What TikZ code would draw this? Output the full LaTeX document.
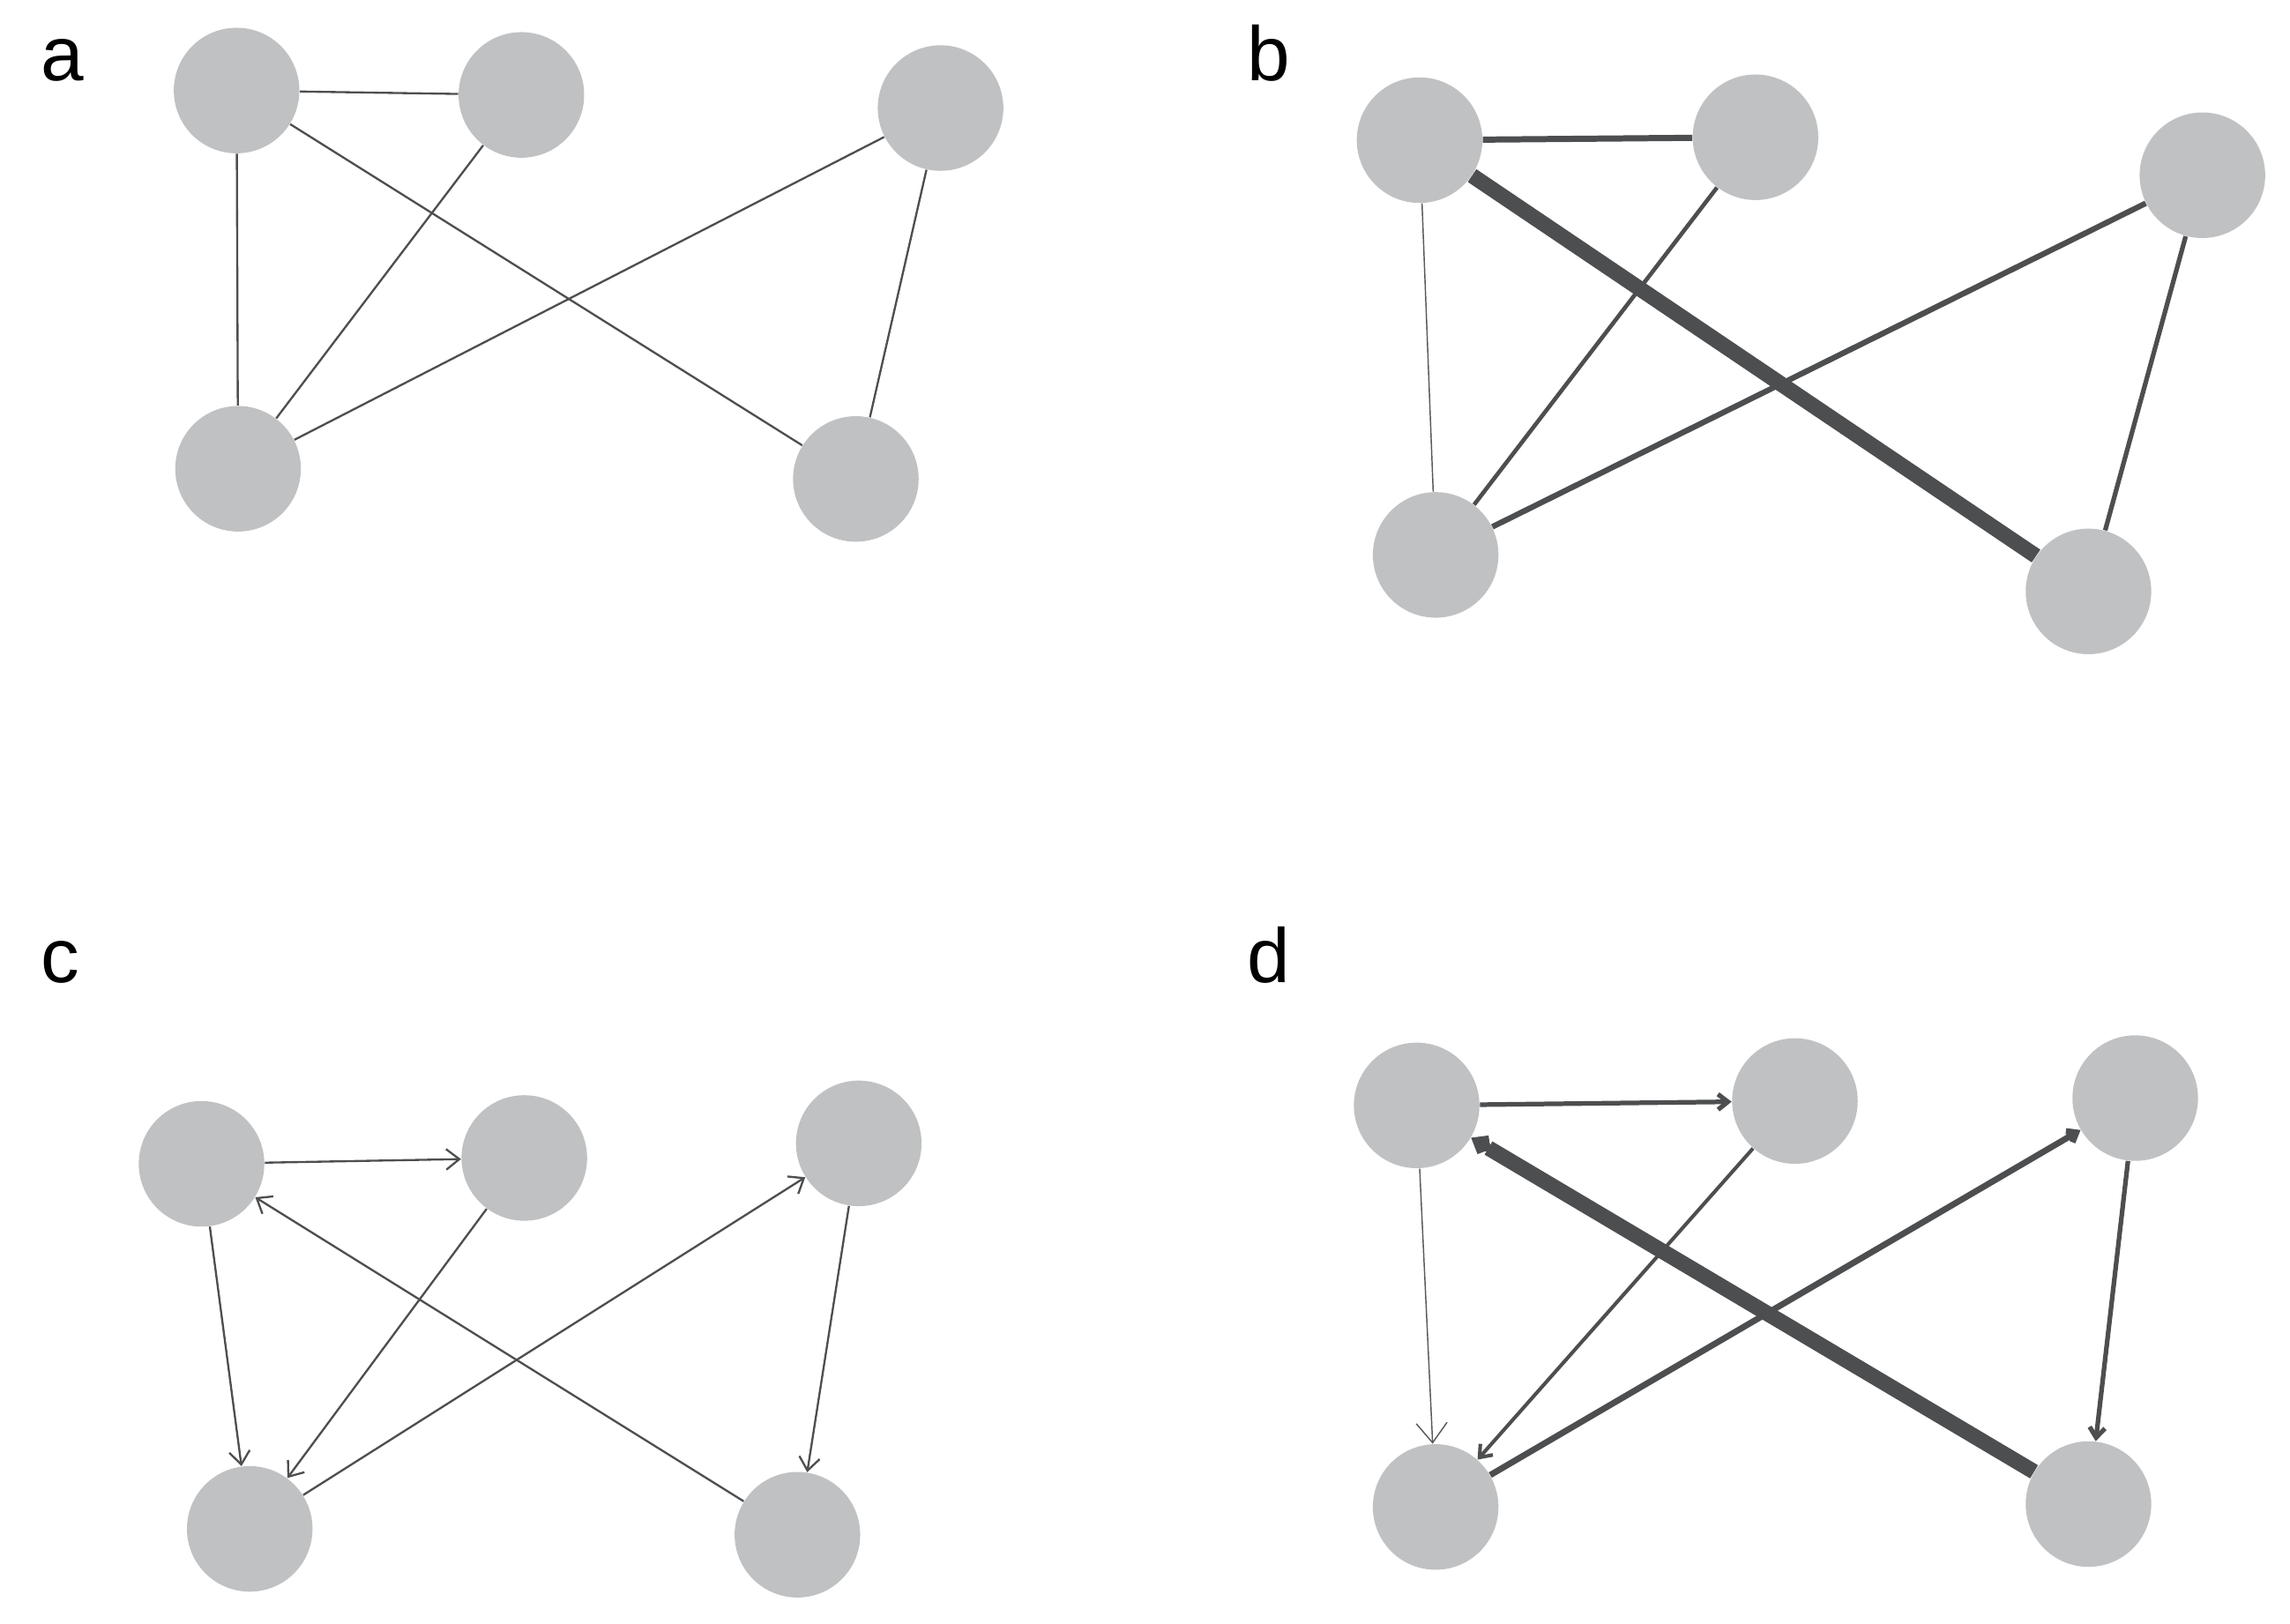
\documentclass[tikz,border=0pt]{standalone}
\usepackage{fontspec}
\setmainfont{Liberation Sans}
\usetikzlibrary{arrows.meta}
\begin{document}
\begin{tikzpicture}[x=0.02cm,y=-0.02cm,
  nd/.style={circle,fill=nodegray,draw=none,minimum size=1.72cm,inner sep=0pt},
  ed/.style={draw=edgegray,line width=#1},
  ed/.default=0.8pt,
  lbl/.style={font=\fontsize{30}{30}\selectfont,anchor=base west},
  ar/.style={-{Straight Barb[length=#1*3.2pt,width=#1*5pt]}}]
\definecolor{nodegray}{HTML}{C0C1C3}
\definecolor{edgegray}{HTML}{4D4E50}
\useasboundingbox (0,0) rectangle (1568,1112);
% panel a
\node[lbl] (la) at (22,55) {a};
\node[nd] (a1) at (162,62) {};
\node[nd] (a2) at (357,65) {};
\node[nd] (a3) at (644,74) {};
\node[nd] (a4) at (163,321) {};
\node[nd] (a5) at (586,328) {};
\draw[ed] (a1)--(a2) (a1)--(a4) (a1)--(a5) (a2)--(a4) (a4)--(a3) (a3)--(a5);
% panel b
\node[lbl] (lb) at (848,55) {b};
\node[nd] (b1) at (972,96) {};
\node[nd] (b2) at (1202,94) {};
\node[nd] (b3) at (1508,120) {};
\node[nd] (b4) at (983,380) {};
\node[nd] (b5) at (1430,405) {};
\draw[draw=gray!70!black,line width=0.5pt] (b1)--(b4);
\draw[ed=2.4pt] (b1)--(b2);
\draw[ed=6pt] (b1)--(b5);
\draw[ed=1.6pt] (b2)--(b4);
\draw[ed=2.2pt] (b4)--(b3);
\draw[ed=1.8pt] (b3)--(b5);
% panel c
\node[lbl] (lc) at (22,673) {c};
\node[nd] (c1) at (138,797) {};
\node[nd] (c2) at (359,793) {};
\node[nd] (c3) at (588,783) {};
\node[nd] (c4) at (171,1047) {};
\node[nd] (c5) at (546,1051) {};
\draw[ed,ar=1.6] (c1)--(c2);
\draw[ed,ar=1.6] (c1)--(c4);
\draw[ed,ar=1.6] (c2)--(c4);
\draw[ed,ar=1.6] (c4)--(c3);
\draw[ed,ar=1.6] (c5)--(c1);
\draw[ed,ar=1.6] (c3)--(c5);
% panel d
\node[lbl] (ld) at (848,673) {d};
\node[nd] (d1) at (970,757) {};
\node[nd] (d2) at (1229,754) {};
\node[nd] (d3) at (1462,752) {};
\node[nd] (d4) at (983,1032) {};
\node[nd] (d5) at (1430,1030) {};
\draw[draw=gray!70!black,line width=0.5pt,ar=2.4] (d1)--(d4);
\draw[ed=1.8pt,ar=1.2] (d1)--(d2);
\draw[ed=1.4pt,ar=1.3] (d2)--(d4);
\draw[ed=2.4pt,ar=1.0] (d4)--(d3);
\draw[ed=6pt,ar=0.75] (d5)--(d1);
\draw[ed=1.8pt,ar=1.2] (d3)--(d5);
\end{tikzpicture}
\end{document}
